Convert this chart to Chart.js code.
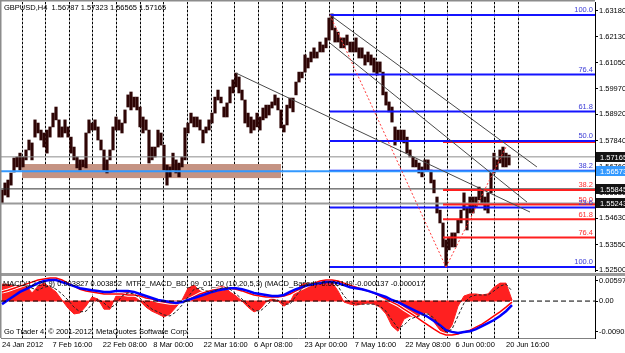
<!DOCTYPE html>
<html>
<head>
<meta charset="utf-8">
<title>GBPUSD H4</title>
<script src="https://cdn.jsdelivr.net/npm/chart.js@4.4.1/dist/chart.umd.min.js"></script>
<style>
  html, body { margin: 0; padding: 0; background: #fff; }
  #wrap { position: relative; width: 625px; height: 353px; overflow: hidden; background: #fff; }
  #priceChart { position: absolute; left: 0; top: 0; }
  #macdChart { position: absolute; left: 0; top: 272px; }
</style>
</head>
<body>
<div id="wrap">
  <canvas id="priceChart" width="625" height="276"></canvas>
  <canvas id="macdChart" width="625" height="81"></canvas>
</div>
<script>
// price samples (high / low), one every 3 px of the original chart
const barHigh = [
  1.5580, 1.5609, 1.5621, 1.5650, 1.5712, 1.5716, 1.5732, 1.5716, 1.5745, 1.5786,
  1.5774, 1.5869, 1.5856, 1.5827, 1.5815, 1.5827, 1.5840, 1.5897, 1.5922, 1.5869,
  1.5840, 1.5869, 1.5840, 1.5798, 1.5757, 1.5716, 1.5704, 1.5704, 1.5815, 1.5869,
  1.5856, 1.5869, 1.5840, 1.5786, 1.5745, 1.5704, 1.5745, 1.5840, 1.5881, 1.5869,
  1.5856, 1.5910, 1.5972, 1.5984, 1.5963, 1.5963, 1.5922, 1.5881, 1.5869, 1.5827,
  1.5757, 1.5757, 1.5827, 1.5815, 1.5765, 1.5683, 1.5675, 1.5732, 1.5704, 1.5691,
  1.5716, 1.5836, 1.5856, 1.5897, 1.5881, 1.5881, 1.5869, 1.5827, 1.5840, 1.5869,
  1.5897, 1.5963, 1.5992, 1.5963, 1.5922, 1.5939, 1.6005, 1.6034, 1.6062, 1.6046,
  1.5992, 1.5951, 1.5897, 1.5881, 1.5869, 1.5897, 1.5881, 1.5918, 1.5930, 1.5930,
  1.5943, 1.5972, 1.5959, 1.5910, 1.5848, 1.5930, 1.5959, 1.5959, 1.6025, 1.6066,
  1.6066, 1.6137, 1.6124, 1.6149, 1.6166, 1.6149, 1.6190, 1.6178, 1.6207, 1.6289,
  1.6306, 1.6248, 1.6231, 1.6207, 1.6207, 1.6219, 1.6190, 1.6190, 1.6207, 1.6166,
  1.6166, 1.6137, 1.6149, 1.6137, 1.6124, 1.6108, 1.6108, 1.6066, 1.5984, 1.5943,
  1.5922, 1.5840, 1.5827, 1.5827, 1.5827, 1.5798, 1.5745, 1.5716, 1.5704, 1.5691,
  1.5675, 1.5704, 1.5704, 1.5662, 1.5621, 1.5551, 1.5497, 1.5444, 1.5374, 1.5386,
  1.5403, 1.5403, 1.5456, 1.5497, 1.5568, 1.5510, 1.5551, 1.5551, 1.5551, 1.5592,
  1.5580, 1.5551, 1.5568, 1.5650, 1.5732, 1.5704, 1.5745, 1.5757, 1.5732, 1.5724
];
const barLow = [
  1.5526, 1.5559, 1.5551, 1.5600, 1.5654, 1.5675, 1.5662, 1.5675, 1.5704, 1.5745,
  1.5704, 1.5798, 1.5815, 1.5786, 1.5757, 1.5732, 1.5798, 1.5840, 1.5869, 1.5798,
  1.5798, 1.5815, 1.5798, 1.5732, 1.5704, 1.5671, 1.5662, 1.5675, 1.5671, 1.5815,
  1.5827, 1.5827, 1.5786, 1.5745, 1.5662, 1.5650, 1.5704, 1.5745, 1.5827, 1.5827,
  1.5815, 1.5856, 1.5922, 1.5910, 1.5922, 1.5910, 1.5840, 1.5815, 1.5827, 1.5691,
  1.5704, 1.5716, 1.5757, 1.5765, 1.5662, 1.5600, 1.5634, 1.5662, 1.5650, 1.5634,
  1.5675, 1.5704, 1.5815, 1.5856, 1.5840, 1.5840, 1.5827, 1.5774, 1.5815, 1.5827,
  1.5856, 1.5897, 1.5951, 1.5939, 1.5881, 1.5881, 1.5939, 1.5980, 1.6005, 1.5980,
  1.5951, 1.5856, 1.5840, 1.5815, 1.5827, 1.5840, 1.5827, 1.5869, 1.5877, 1.5889,
  1.5918, 1.5930, 1.5910, 1.5836, 1.5819, 1.5848, 1.5918, 1.5902, 1.5972, 1.6025,
  1.6042, 1.6066, 1.6083, 1.6108, 1.6124, 1.6124, 1.6149, 1.6149, 1.6166, 1.6198,
  1.6240, 1.6190, 1.6190, 1.6166, 1.6166, 1.6178, 1.6149, 1.6149, 1.6149, 1.6124,
  1.6124, 1.6095, 1.6108, 1.6095, 1.6066, 1.6054, 1.6066, 1.5972, 1.5930, 1.5902,
  1.5860, 1.5765, 1.5786, 1.5786, 1.5774, 1.5732, 1.5716, 1.5675, 1.5675, 1.5650,
  1.5634, 1.5662, 1.5662, 1.5609, 1.5568, 1.5485, 1.5444, 1.5345, 1.5262, 1.5333,
  1.5345, 1.5345, 1.5403, 1.5444, 1.5497, 1.5415, 1.5485, 1.5485, 1.5510, 1.5539,
  1.5526, 1.5497, 1.5485, 1.5568, 1.5650, 1.5662, 1.5691, 1.5675, 1.5675, 1.5683
];

const priceTicks = [1.6318, 1.6213, 1.6105, 1.5997, 1.5892, 1.5784, 1.5676, 1.5568, 1.5463, 1.5355, 1.525];
const timeLabels = ["24 Jan 2012", "7 Feb 16:00", "22 Feb 08:00", "8 Mar 00:00", "22 Mar 16:00",
  "6 Apr 08:00", "23 Apr 00:00", "7 May 16:00", "22 May 08:00", "6 Jun 00:00", "20 Jun 16:00"];

// fibonacci objects: levels in price, anchored at a bar
const blueFibStart = 109.3;
const blueFibLevels = [1.6302, 1.6056, 1.5904, 1.5782, 1.5659, 1.5508, 1.5262];
const blueFibLabels = ["100.0", "76.4", "61.8", "50.0", "38.2", "23.6", "100.0"];
const redFibStart = 147;
const redFibLevels = [1.5778, 1.5580, 1.5520, 1.5459, 1.5384, 1.5262];
const redFibLabels = ["", "38.2", "50.0", "61.8", "76.4", ""];

// trend lines: [bar1, price1, bar2, price2]
const trendLines = [
  [78, 1.6062, 176, 1.5489],
  [109.3, 1.6186, 175, 1.5530],
  [109.3, 1.6302, 178.3, 1.5675]
];
const fibRays = [
  [109.3, 1.6302, 148, 1.5262],
  [148, 1.5262, 168, 1.5757]
];

// horizontal price lines and the marked prices on the axis
const bidPrice = 1.57165;
const supportPrice = 1.56573;
const darkLinePrice = 1.55845;
const grayLinePrice = 1.55243;
const markedPrices = [1.57165, 1.56573, 1.55845, 1.55243];
const markedColors = ["#141414", "#3399ff", "#141414", "#141414"];

// shaded zone
const zoneBars = [6.7, 93];
const zonePrices = [1.5687, 1.5629];

// MACD panel, one sample every 2 bars
const macdHist = [
  0.0050, 0.0049, 0.0044, 0.0047, 0.0047, 0.0024, 0.0044, 0.0053, 0.0041, 0.0027,
  0.0003, -0.0021, -0.0038, -0.0035, -0.0015, 0.0012, 0.0006, -0.0024, -0.0024, 0.0015,
  0.0027, 0.0027, 0.0015, 0, -0.0018, -0.0030, -0.0038, -0.0047, -0.0038, -0.0018,
  0.0003, 0.0038, 0.0047, 0.0030, 0.0021, 0.0032, 0.0041, 0.0044, 0.0027, 0.0015,
  0, -0.0018, -0.0032, -0.0024, -0.0003, 0.0009, 0, -0.0015, -0.0003, 0.0032,
  0.0050, 0.0053, 0.0053, 0.0056, 0.0059, 0.0056, 0.0030, -0.0003, -0.0009, -0.0012,
  -0.0009, -0.0006, -0.0009, -0.0018, -0.0038, -0.0074, -0.0089, -0.0053, -0.0044, -0.0047,
  -0.0035, -0.0035, -0.0062, -0.0086, -0.0097, -0.0071, -0.0015, 0.0015, 0.0021, 0.0021,
  0.0018, 0.0021, 0.0041, 0.0053, 0.0053, 0.0003
];
const macdBlue = [
  -0.0009, 0.0003, 0.0015, 0.0027, 0.0035, 0.0044, 0.0053, 0.0059, 0.0062, 0.0062,
  0.0056, 0.0050, 0.0044, 0.0038, 0.0035, 0.0032, 0.0030, 0.0027, 0.0027, 0.0030,
  0.0030, 0.0030, 0.0027, 0.0021, 0.0015, 0.0009, 0.0003, 0, -0.0003, -0.0006,
  -0.0003, 0.0003, 0.0009, 0.0015, 0.0021, 0.0027, 0.0032, 0.0035, 0.0038, 0.0038,
  0.0035, 0.0030, 0.0024, 0.0021, 0.0018, 0.0015, 0.0015, 0.0018, 0.0027, 0.0035,
  0.0041, 0.0047, 0.0050, 0.0053, 0.0056, 0.0056, 0.0053, 0.0047, 0.0041, 0.0038,
  0.0035, 0.0030, 0.0024, 0.0018, 0.0012, 0.0003, -0.0003, -0.0012, -0.0021, -0.0030,
  -0.0038, -0.0047, -0.0059, -0.0071, -0.0086, -0.0091, -0.0094, -0.0091, -0.0089, -0.0083,
  -0.0074, -0.0065, -0.0056, -0.0044, -0.0030, -0.0012
];
const macdRed = [
  0.0027, 0.0032, 0.0038, 0.0044, 0.0050, 0.0056, 0.0062, 0.0065, 0.0068, 0.0068,
  0.0062, 0.0053, 0.0044, 0.0035, 0.0030, 0.0027, 0.0024, 0.0021, 0.0021, 0.0021,
  0.0021, 0.0018, 0.0018, 0.0015, 0.0009, 0.0006, 0, -0.0003, -0.0006, -0.0006,
  -0.0003, 0.0003, 0.0012, 0.0021, 0.0027, 0.0032, 0.0035, 0.0038, 0.0038, 0.0035,
  0.0030, 0.0024, 0.0018, 0.0015, 0.0012, 0.0012, 0.0012, 0.0015, 0.0021, 0.0030,
  0.0038, 0.0047, 0.0053, 0.0059, 0.0062, 0.0062, 0.0059, 0.0053, 0.0047, 0.0041,
  0.0035, 0.0030, 0.0024, 0.0015, 0.0006, -0.0003, -0.0012, -0.0024, -0.0035, -0.0047,
  -0.0059, -0.0071, -0.0083, -0.0094, -0.0100, -0.0100, -0.0097, -0.0091, -0.0086, -0.0077,
  -0.0068, -0.0056, -0.0044, -0.0032, -0.0018, -0.0003
];
const macdMain = [
  0.0047, 0.0047, 0.0047, 0.0044, 0.0047, 0.0038, 0.0032, 0.0041, 0.0044, 0.0035,
  0.0021, 0.0003, -0.0018, -0.0032, -0.0030, -0.0009, 0.0006, -0.0006, -0.0021, -0.0009,
  0.0015, 0.0024, 0.0021, 0.0009, -0.0009, -0.0024, -0.0032, -0.0041, -0.0044, -0.0032,
  -0.0012, 0.0012, 0.0035, 0.0038, 0.0030, 0.0027, 0.0035, 0.0041, 0.0035, 0.0021,
  0.0006, -0.0012, -0.0027, -0.0030, -0.0015, 0.0003, 0.0003, -0.0009, -0.0009, 0.0015,
  0.0038, 0.0050, 0.0053, 0.0053, 0.0056, 0.0056, 0.0044, 0.0015, -0.0003, -0.0009,
  -0.0009, -0.0009, -0.0009, -0.0015, -0.0030, -0.0056, -0.0080, -0.0071, -0.0053, -0.0047,
  -0.0041, -0.0038, -0.0050, -0.0074, -0.0091, -0.0083, -0.0044, -0.0006, 0.0012, 0.0018,
  0.0018, 0.0018, 0.0030, 0.0044, 0.0050, 0.0030
];
const macdTicks = [0.00597, 0, -0.00902];

const MACD_STEP = 2;
const LABEL_STEP = 16.8;
const GRID_FIRST = 6.67;
const GRID_STEP = 7.883;
const GRID_COUNT = 22;
const X_MIN = -1 / 3;
const X_MAX = X_MIN + 594 / 3;
const Y_MIN = 1.52459;
const Y_MAX = 1.63551;
const MACD_MIN = -0.0109;
const MACD_MAX = 0.0074;
const LAST_BAR = barHigh.length - 1;

const FONT = "'Liberation Sans', Arial, sans-serif";
const TEXT_SIZE = 7.5;

// white background for each canvas
const paperPlugin = {
  id: "paper",
  beforeDraw(chart) {
    const ctx = chart.ctx;
    ctx.save();
    ctx.fillStyle = "#ffffff";
    ctx.fillRect(0, 0, chart.width, chart.height);
    ctx.restore();
  },
};

// vertical time grid: a thin gray column with darker dots on top
const gridPlugin = {
  id: "gridLines",
  beforeDatasetsDraw(chart) {
    const ctx = chart.ctx;
    const area = chart.chartArea;
    const xScale = chart.scales.x;
    ctx.save();
    for (let k = 0; k < GRID_COUNT; k++) {
      const px = Math.floor(xScale.getPixelForValue(GRID_FIRST + k * GRID_STEP));
      ctx.fillStyle = "rgba(110,110,110,0.55)";
      ctx.fillRect(px, area.top, 1, area.bottom - area.top);
      ctx.fillStyle = "#000000";
      for (let y = Math.floor(area.top); y < area.bottom; y += 4) {
        ctx.fillRect(px, y, 1, 2);
      }
    }
    ctx.restore();
  },
};

// shaded rectangle under the bars
const zonePlugin = {
  id: "zone",
  beforeDatasetsDraw(chart) {
    const { ctx, scales } = chart;
    const x1 = scales.x.getPixelForValue(zoneBars[0]);
    const x2 = scales.x.getPixelForValue(zoneBars[1]);
    const y1 = scales.y.getPixelForValue(zonePrices[0]);
    const y2 = scales.y.getPixelForValue(zonePrices[1]);
    ctx.save();
    ctx.fillStyle = "#c59383";
    ctx.fillRect(x1, y1, x2 - x1, y2 - y1);
    ctx.restore();
  },
};

// fib labels, marked prices, title and frame
const priceTextPlugin = {
  id: "priceText",
  afterDatasetsDraw(chart) {
    const { ctx, chartArea, scales } = chart;
    ctx.save();
    ctx.font = TEXT_SIZE + "px " + FONT;
    ctx.textAlign = "right";
    ctx.textBaseline = "bottom";
    ctx.fillStyle = "#ff3030";
    redFibLevels.forEach((p, i) => {
      if (!redFibLabels[i]) return;
      ctx.fillText(redFibLabels[i], chartArea.right - 2, scales.y.getPixelForValue(p) - 1);
    });
    ctx.fillStyle = "#3b3bd6";
    blueFibLevels.forEach((p, i) => {
      ctx.fillText(blueFibLabels[i], chartArea.right - 2, scales.y.getPixelForValue(p) - 1);
    });
    ctx.restore();
  },
  afterDraw(chart) {
    const { ctx, chartArea, scales } = chart;
    ctx.save();
    ctx.font = TEXT_SIZE + "px " + FONT;
    ctx.textBaseline = "middle";
    ctx.textAlign = "left";
    markedPrices.forEach((p, i) => {
      const y = Math.round(scales.y.getPixelForValue(p));
      ctx.fillStyle = markedColors[i];
      ctx.fillRect(chartArea.right + 1, y - 5, chart.width - chartArea.right, 10);
      ctx.fillStyle = "#ffffff";
      ctx.fillText(p.toFixed(5), chartArea.right + 5, y + 0.5);
    });
    ctx.fillStyle = "#000000";
    ctx.fillText("GBPUSD,H4  1.56787 1.57323 1.56565 1.57165", 4, 8);
    ctx.fillStyle = "#8c8c8c";
    ctx.fillRect(0, 0, chartArea.right, 1.5);
    ctx.fillRect(0, 0, 1.5, chart.height);
    ctx.restore();
  },
};

const seg = (x1, y1, x2, y2, color, width, dash, order) => ({
  type: "line",
  data: [{ x: x1, y: y1 }, { x: x2, y: y2 }],
  borderColor: color,
  borderWidth: width,
  borderDash: dash,
  pointRadius: 0,
  fill: false,
  order: order,
});

const priceDatasets = [
  {
    type: "bar",
    data: barHigh.map((h, i) => ({ x: i, y: [barLow[i], h] })),
    backgroundColor: "#2e0505",
    borderWidth: 0,
    barThickness: 2.5,
    order: 20,
  },
  seg(X_MIN, bidPrice, X_MAX, bidPrice, "#8d8d8d", 1, [], 15),
  seg(X_MIN, darkLinePrice, X_MAX, darkLinePrice, "#333333", 1, [], 15),
  seg(X_MIN, grayLinePrice, X_MAX, grayLinePrice, "#9a9a9a", 2, [], 15),
];
redFibLevels.forEach((p) => priceDatasets.push(seg(redFibStart, p, X_MAX, p, "#ff1f1f", 2, [], 12)));
blueFibLevels.forEach((p) => priceDatasets.push(seg(blueFibStart, p, X_MAX, p, "#1414ff", 2, [], 11)));
priceDatasets.push(seg(X_MIN, supportPrice, X_MAX, supportPrice, "#3399ff", 2, [], 8));
trendLines.forEach((t) => priceDatasets.push(seg(t[0], t[1], t[2], t[3], "#4a4a4a", 1, [], 6)));
fibRays.forEach((t) => priceDatasets.push(seg(t[0], t[1], t[2], t[3], "#ff3c3c", 1, [2, 2], 5)));

new Chart(document.getElementById("priceChart"), {
  type: "line",
  data: { datasets: priceDatasets },
  options: {
    responsive: false,
    animation: false,
    events: [],
    layout: { padding: { top: 2, left: 1, right: 0, bottom: 5 } },
    plugins: { legend: { display: false }, tooltip: { enabled: false } },
    scales: {
      x: { type: "linear", min: X_MIN, max: X_MAX, offset: false, display: false },
      y: {
        position: "right",
        min: Y_MIN,
        max: Y_MAX,
        afterBuildTicks: (axis) => {
          axis.ticks = priceTicks.map((v) => ({ value: v }));
        },
        afterFit: (axis) => {
          axis.width = 30;
          axis.paddingTop = 0;
          axis.paddingBottom = 0;
        },
        ticks: {
          autoSkip: false,
          padding: 1,
          color: "#000000",
          font: { family: FONT, size: TEXT_SIZE },
          callback: (v) => Number(v).toFixed(5),
        },
        grid: { drawOnChartArea: false, drawTicks: true, tickLength: 3, color: "#000000" },
        border: { display: true, color: "#000000", width: 1 },
      },
    },
  },
  plugins: [paperPlugin, gridPlugin, zonePlugin, priceTextPlugin],
});

// MACD panel
const macdPoints = (arr) => arr.map((v, k) => ({ x: k * MACD_STEP, y: v }));

const macdTextPlugin = {
  id: "macdText",
  beforeDatasetsDraw(chart) {
    const { ctx, chartArea } = chart;
    ctx.save();
    ctx.fillStyle = "#9a9a9a";
    ctx.fillRect(0, 1, chart.width, 3);
    ctx.fillStyle = "#8c8c8c";
    ctx.fillRect(0, 0, 1.5, chartArea.bottom);
    ctx.restore();
  },
  afterDraw(chart) {
    const { ctx } = chart;
    ctx.save();
    ctx.font = TEXT_SIZE + "px " + FONT;
    ctx.textBaseline = "middle";
    ctx.textAlign = "left";
    ctx.fillStyle = "#000000";
    ctx.fillText("MACD(12,26,9) 0.003827 0.003852  MTF2_MACD_BD_09_01_20 (10,20,5,3) (MACD_Based) -0.000149 -0.000137 -0.000017", 3, 12);
    ctx.fillText("Go Trader 4, \u00a9 2001-2012, MetaQuotes Software Corp.", 4, 60);
    ctx.restore();
  },
};

const macdDatasets = [
  seg(X_MIN, 0, X_MAX, 0, "#000000", 1, [5, 3], 0),
  { data: macdPoints(macdMain), borderColor: "#222222", borderWidth: 1, borderDash: [3, 2], pointRadius: 0, order: 1 },
  { data: macdPoints(macdBlue), borderColor: "#0000ff", borderWidth: 2.5, pointRadius: 0, order: 2 },
  { data: macdPoints(macdRed), borderColor: "#ff0000", borderWidth: 1.5, pointRadius: 0, order: 3 },
  { data: macdPoints(macdRed), borderColor: "#ffffff", borderWidth: 3.5, pointRadius: 0, order: 4 },
  {
    data: macdPoints(macdHist),
    borderColor: "#ff2020",
    backgroundColor: "#ff2020",
    borderWidth: 1,
    pointRadius: 0,
    fill: "origin",
    order: 5,
  },
  seg(0, 0, LAST_BAR, 0, "#ff8080", 1.5, [], 6),
];

new Chart(document.getElementById("macdChart"), {
  type: "line",
  data: { datasets: macdDatasets },
  options: {
    responsive: false,
    animation: false,
    events: [],
    layout: { padding: { top: 4, left: 1, right: 0, bottom: 0 } },
    plugins: { legend: { display: false }, tooltip: { enabled: false } },
    scales: {
      x: {
        type: "linear",
        min: X_MIN,
        max: X_MAX,
        offset: false,
        position: "bottom",
        afterBuildTicks: (axis) => {
          axis.ticks = timeLabels.map((_, k) => ({ value: k * LABEL_STEP }));
        },
        afterFit: (axis) => {
          axis.height = 15;
          axis.paddingLeft = 0;
          axis.paddingRight = 0;
        },
        ticks: {
          autoSkip: false,
          maxRotation: 0,
          align: "start",
          padding: 2,
          color: "#000000",
          font: { family: FONT, size: TEXT_SIZE },
          callback: (v, i) => timeLabels[i],
        },
        grid: { drawOnChartArea: false, drawTicks: false },
        border: { display: true, color: "#808080", width: 1 },
      },
      y: {
        position: "right",
        min: MACD_MIN,
        max: MACD_MAX,
        afterBuildTicks: (axis) => {
          axis.ticks = macdTicks.map((v) => ({ value: v }));
        },
        afterFit: (axis) => {
          axis.width = 30;
          axis.paddingTop = 0;
          axis.paddingBottom = 0;
        },
        ticks: {
          autoSkip: false,
          padding: 1,
          color: "#000000",
          font: { family: FONT, size: TEXT_SIZE },
          callback: (v) => (v === 0 ? "0.00" : Number(v).toFixed(5)),
        },
        grid: { drawOnChartArea: false, drawTicks: true, tickLength: 3, color: "#000000" },
        border: { display: true, color: "#000000", width: 1 },
      },
    },
  },
  plugins: [paperPlugin, gridPlugin, macdTextPlugin],
});
</script>
</body>
</html>
